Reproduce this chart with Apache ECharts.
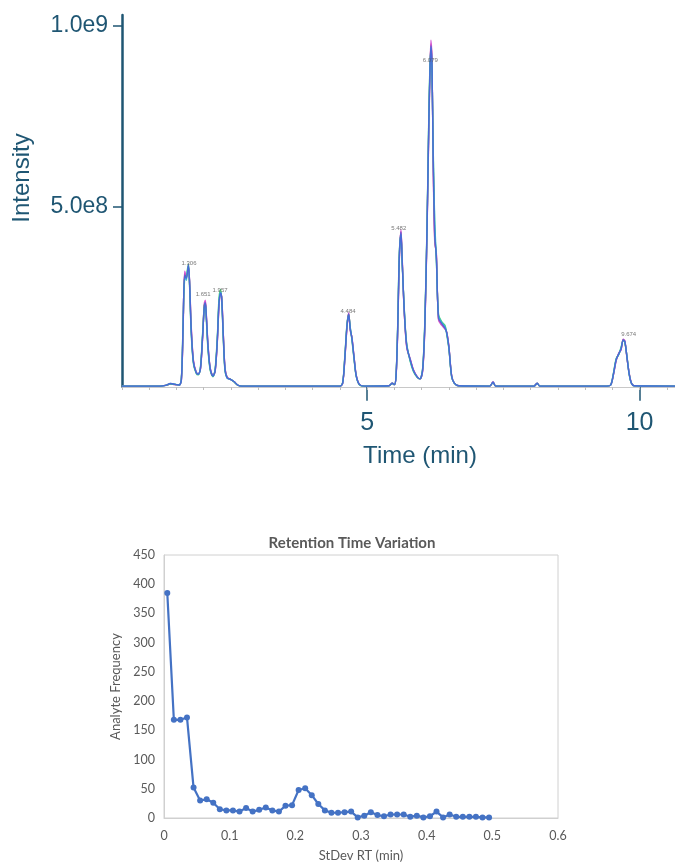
<!DOCTYPE html>
<html>
<head>
<meta charset="utf-8">
<script src="https://cdn.jsdelivr.net/npm/echarts@6/dist/echarts.min.js"></script>
<style>
  html, body { margin: 0; padding: 0; background: #fff; }
  #chart { width: 675px; height: 863px; }
</style>
</head>
<body>
<div id="chart"></div>
<script>
// chromatogram, retention time in min, intensity in units of 1e8
const timeMin = [
  0.50, 1.20, 1.30, 1.39, 1.47, 1.55,
  1.59, 1.62, 1.65, 1.68, 1.70, 1.72, 1.74, 1.77, 1.81, 1.86,
  1.90, 1.94, 1.98, 2.01, 2.03, 2.05, 2.08, 2.12, 2.17,
  2.21, 2.25, 2.28, 2.31, 2.33, 2.36, 2.39, 2.43, 2.50, 2.56, 2.62, 2.70,
  4.50, 4.55, 4.59, 4.63, 4.66, 4.69, 4.72, 4.76, 4.80, 4.86, 4.95,
  5.40, 5.46, 5.50, 5.53, 5.56, 5.59, 5.62, 5.64, 5.67, 5.70, 5.73, 5.79, 5.85, 5.92, 5.97,
  6.02, 6.06, 6.10, 6.13, 6.15, 6.17, 6.19, 6.21, 6.24, 6.27, 6.31, 6.37, 6.43, 6.46, 6.50, 6.55, 6.60, 6.68,
  7.25, 7.31, 7.36, 8.06, 8.12, 8.17,
  9.40, 9.47, 9.52, 9.57, 9.62, 9.66, 9.70, 9.73, 9.77, 9.81, 9.85, 9.90, 10.65
]

const runRed = [
  0.02, 0.02, 0.04, 0.08, 0.06, 0.05,
  0.2, 1.55, 3.15, 3.05, 3.1, 3.32, 2.9, 1.65, 0.72, 0.41,
  0.35, 0.5, 1.4, 2.25, 2.36, 1.9, 1.1, 0.5, 0.3,
  0.44, 1.28, 2.25, 2.58, 2.48, 1.42, 0.52, 0.26, 0.2, 0.14, 0.05, 0.02,
  0.02, 0.1, 0.78, 1.68, 2.03, 1.58, 1.36, 0.8, 0.31, 0.06, 0.02,
  0.03, 0.1, 0.06, 0.29, 1.55, 3.55, 4.3, 3.65, 2.42, 1.58, 1.08, 0.76, 0.46, 0.27, 0.22,
  0.48, 1.75, 4.45, 7.1, 8.55, 9.5, 8.95, 6.4, 4.1, 3.65, 1.88, 1.72, 1.61, 1.51, 1.1, 0.31, 0.1, 0.03,
  0.02, 0.13, 0.02, 0.02, 0.1, 0.02,
  0.02, 0.05, 0.34, 0.74, 0.93, 1.04, 1.31, 1.26, 0.79, 0.36, 0.1, 0.03, 0.02
]

const runMagenta = [
  0.02, 0.02, 0.04, 0.08, 0.06, 0.05,
  0.18, 1.5, 3.2, 3.1, 3.1, 3.3, 2.95, 1.7, 0.75, 0.42,
  0.36, 0.48, 1.35, 2.3, 2.4, 1.95, 1.15, 0.52, 0.32,
  0.42, 1.25, 2.2, 2.55, 2.5, 1.45, 0.55, 0.27, 0.2, 0.14, 0.05, 0.02,
  0.02, 0.09, 0.75, 1.65, 2.05, 1.55, 1.38, 0.82, 0.32, 0.06, 0.02,
  0.03, 0.1, 0.06, 0.28, 1.5, 3.5, 4.35, 3.7, 2.4, 1.55, 1.05, 0.78, 0.47, 0.28, 0.22,
  0.45, 1.7, 4.4, 7.0, 8.5, 9.6, 9.0, 6.3, 4.0, 3.7, 1.85, 1.7, 1.6, 1.52, 1.12, 0.32, 0.1, 0.03,
  0.02, 0.14, 0.02, 0.02, 0.1, 0.02,
  0.02, 0.05, 0.33, 0.72, 0.94, 1.02, 1.32, 1.27, 0.78, 0.37, 0.11, 0.03, 0.02
]

const runGreen = [
  0.02, 0.02, 0.04, 0.08, 0.07, 0.05,
  0.25, 1.7, 3.0, 3.05, 3.25, 3.4, 2.8, 1.5, 0.65, 0.38,
  0.33, 0.55, 1.5, 2.25, 2.3, 1.8, 1.0, 0.45, 0.28,
  0.5, 1.4, 2.45, 2.7, 2.4, 1.3, 0.45, 0.25, 0.2, 0.13, 0.05, 0.02,
  0.02, 0.12, 0.85, 1.75, 2.0, 1.65, 1.3, 0.75, 0.28, 0.05, 0.02,
  0.03, 0.09, 0.06, 0.32, 1.7, 3.7, 4.2, 3.5, 2.5, 1.65, 1.15, 0.7, 0.42, 0.26, 0.22,
  0.55, 1.9, 4.6, 7.4, 8.8, 9.3, 8.7, 6.8, 4.4, 3.5, 2.0, 1.8, 1.7, 1.45, 1.05, 0.28, 0.1, 0.03,
  0.02, 0.12, 0.02, 0.02, 0.09, 0.02,
  0.02, 0.05, 0.38, 0.78, 0.9, 1.1, 1.28, 1.22, 0.82, 0.33, 0.1, 0.03, 0.02
]

const runCyan = [
  0.02, 0.02, 0.04, 0.09, 0.07, 0.05,
  0.22, 1.65, 3.05, 2.95, 3.2, 3.35, 2.85, 1.55, 0.68, 0.4,
  0.34, 0.52, 1.45, 2.15, 2.28, 1.85, 1.05, 0.48, 0.29,
  0.47, 1.35, 2.35, 2.62, 2.42, 1.35, 0.48, 0.24, 0.2, 0.14, 0.05, 0.02,
  0.02, 0.11, 0.82, 1.72, 1.98, 1.62, 1.33, 0.78, 0.29, 0.06, 0.02,
  0.03, 0.1, 0.06, 0.31, 1.65, 3.65, 4.22, 3.55, 2.48, 1.62, 1.12, 0.73, 0.44, 0.27, 0.22,
  0.52, 1.85, 4.55, 7.3, 8.7, 9.4, 8.8, 6.6, 4.6, 3.55, 1.95, 1.78, 1.66, 1.48, 1.08, 0.29, 0.1, 0.03,
  0.02, 0.13, 0.02, 0.02, 0.1, 0.02,
  0.02, 0.05, 0.36, 0.76, 0.91, 1.07, 1.29, 1.24, 0.81, 0.34, 0.1, 0.03, 0.02
]

const runBlue = [
  0.02, 0.02, 0.04, 0.09, 0.07, 0.05,
  0.2, 1.6, 3.1, 3.0, 3.15, 3.38, 2.9, 1.6, 0.7, 0.4,
  0.35, 0.5, 1.4, 2.2, 2.33, 1.9, 1.1, 0.5, 0.3,
  0.45, 1.3, 2.3, 2.6, 2.45, 1.4, 0.5, 0.25, 0.2, 0.14, 0.05, 0.02,
  0.02, 0.1, 0.8, 1.7, 2.02, 1.6, 1.35, 0.8, 0.3, 0.06, 0.02,
  0.03, 0.1, 0.06, 0.3, 1.6, 3.6, 4.28, 3.6, 2.45, 1.6, 1.1, 0.75, 0.45, 0.27, 0.22,
  0.5, 1.8, 4.5, 7.2, 8.6, 9.45, 8.9, 6.5, 4.2, 3.6, 1.9, 1.75, 1.62, 1.5, 1.1, 0.3, 0.1, 0.03,
  0.02, 0.13, 0.02, 0.02, 0.1, 0.02,
  0.02, 0.05, 0.35, 0.75, 0.92, 1.05, 1.3, 1.25, 0.8, 0.35, 0.1, 0.03, 0.02
]

// peak annotations
const peakNames = ['1.306', '1.651', '1.957', '4.484', '5.482', '6.079', '9.674']
const peakTime = [1.73, 1.99, 2.30, 4.65, 5.58, 6.16, 9.80]
const peakLabelAt = [3.42, 2.55, 2.68, 2.1, 4.4, 9.05, 1.45]

const intensityTicks = [5, 10]
const timeTicks = [5, 10]

// retention time variation histogram
const stdevRt = [
  0.005, 0.015, 0.025, 0.035, 0.045, 0.055, 0.065, 0.075, 0.085, 0.095,
  0.105, 0.115, 0.125, 0.135, 0.145, 0.155, 0.165, 0.175, 0.185, 0.195,
  0.205, 0.215, 0.225, 0.235, 0.245, 0.255, 0.265, 0.275, 0.285, 0.295,
  0.305, 0.315, 0.325, 0.335, 0.345, 0.355, 0.365, 0.375, 0.385, 0.395,
  0.405, 0.415, 0.425, 0.435, 0.445, 0.455, 0.465, 0.475, 0.485, 0.495
]
const analyteFreq = [
  385, 168, 168, 172, 52, 30, 32, 26, 15, 13,
  13, 11, 17, 11, 14, 18, 13, 11, 21, 22,
  48, 51, 39, 24, 13, 9, 9, 10, 11, 1,
  4, 10, 5, 3, 6, 6, 6, 2, 4, 1,
  3, 11, 1, 6, 2, 2, 2, 2, 1, 1
]

const teal = '#1f5673'
const excelGray = '#595959'

const runs = [
  { name: 'run 1', color: '#c0504d', data: runRed },
  { name: 'run 2', color: '#d24fd4', data: runMagenta },
  { name: 'run 3', color: '#3fcf6e', data: runGreen },
  { name: 'run 4', color: '#2fb8d2', data: runCyan },
  { name: 'run 5', color: '#4f5fd8', data: runBlue },
]

const traceSeries = runs.map(r => ({
  name: r.name,
  type: 'line',
  xAxisIndex: 0,
  yAxisIndex: 0,
  data: timeMin.map((t, i) => [t, r.data[i]]),
  showSymbol: false,
  smooth: 0.3,
  lineStyle: { color: r.color, width: 1.4, opacity: 0.9 },
  itemStyle: { color: r.color },
  silent: true,
  z: 3,
}))

const chart = echarts.init(document.getElementById('chart'), null, { renderer: 'canvas' })

chart.setOption({
  animation: false,
  backgroundColor: '#fff',
  grid: [
    { left: 122, top: 15, right: 0, height: 372 },
    { left: 164, top: 555, width: 394, height: 264, show: true, borderColor: '#d0d0d0', borderWidth: 1 },
  ],
  xAxis: [
    {
      gridIndex: 0, type: 'value', position: 'bottom', min: 0.5, max: 10.65,
      axisLine: { show: false },
      splitLine: { show: false },
      axisTick: { customValues: timeTicks, length: 14, lineStyle: { color: teal, width: 1.5 } },
      axisLabel: {
        customValues: timeTicks, margin: 24, color: teal,
        fontFamily: 'Liberation Sans', fontSize: 25,
      },
    },
    {
      // light baseline with small ticks
      gridIndex: 0, type: 'value', position: 'bottom', min: 0.5, max: 10.65, interval: 0.5,
      axisLine: { show: true, onZero: false, lineStyle: { color: '#c8c8c8', width: 1 } },
      axisTick: { length: 3, lineStyle: { color: '#bdbdbd' } },
      axisLabel: { show: false },
      splitLine: { show: false },
    },
    {
      gridIndex: 1, type: 'value', min: 0, max: 0.6, interval: 0.1,
      axisLine: { show: true, lineStyle: { color: '#d0d0d0' } },
      axisTick: { show: false },
      splitLine: { show: false },
      axisLabel: { color: excelGray, fontFamily: 'Lato', fontSize: 12.5, margin: 11 },
      name: 'StDev RT (min)', nameLocation: 'middle', nameGap: 31,
      nameTextStyle: { color: excelGray, fontFamily: 'Lato', fontSize: 13 },
    },
  ],
  yAxis: [
    {
      gridIndex: 0, type: 'value', min: -0.005, max: 10.3,
      axisLine: { show: true, lineStyle: { color: teal, width: 2.5 } },
      splitLine: { show: false },
      axisTick: { customValues: intensityTicks, length: 9, lineStyle: { color: teal, width: 1.5 } },
      axisLabel: {
        customValues: intensityTicks, margin: 14, color: teal,
        fontFamily: 'Liberation Sans', fontSize: 23,
        formatter: v => (v * 1e8).toExponential(1).replace('+', ''),
      },
    },
    {
      gridIndex: 1, type: 'value', min: 0, max: 450, interval: 50,
      axisLine: { show: true, lineStyle: { color: '#d0d0d0' } },
      axisTick: { show: false },
      splitLine: { show: false },
      axisLabel: { color: excelGray, fontFamily: 'Lato', fontSize: 12.5, margin: 9 },
      name: 'Analyte Frequency', nameLocation: 'middle', nameGap: 36,
      nameTextStyle: { color: excelGray, fontFamily: 'Lato', fontSize: 13 },
    },
  ],
  title: {
    text: 'Retention Time Variation',
    left: 347, top: 531, textAlign: 'center',
    textStyle: { color: excelGray, fontFamily: 'Lato', fontWeight: 'bold', fontSize: 15 },
  },
  graphic: [
    {
      type: 'text', x: 22, y: 178, rotation: Math.PI / 2,
      style: {
        text: 'Intensity', fill: teal, font: '24px "Liberation Sans"',
        align: 'center', verticalAlign: 'middle',
      },
    },
    {
      type: 'text', x: 420, y: 456,
      style: {
        text: 'Time (min)', fill: teal, font: '24px "Liberation Sans"',
        align: 'center', verticalAlign: 'middle',
      },
    },
  ],
  series: [
    ...traceSeries,
    {
      name: 'peaks',
      type: 'scatter',
      xAxisIndex: 0,
      yAxisIndex: 0,
      symbolSize: 0,
      data: peakTime.map((t, i) => [t, peakLabelAt[i], peakNames[i]]),
      label: {
        show: true, position: 'inside', formatter: p => p.data[2],
        fontFamily: 'Liberation Sans', fontSize: 6, color: '#555',
      },
      z: 5,
    },
    {
      name: 'Analyte Frequency',
      type: 'line',
      xAxisIndex: 2,
      yAxisIndex: 1,
      data: stdevRt.map((x, i) => [x, analyteFreq[i]]),
      symbol: 'circle',
      symbolSize: 6,
      lineStyle: { color: '#4472c4', width: 2.2 },
      itemStyle: { color: '#4472c4' },
    },
  ],
})
</script>
</body>
</html>
